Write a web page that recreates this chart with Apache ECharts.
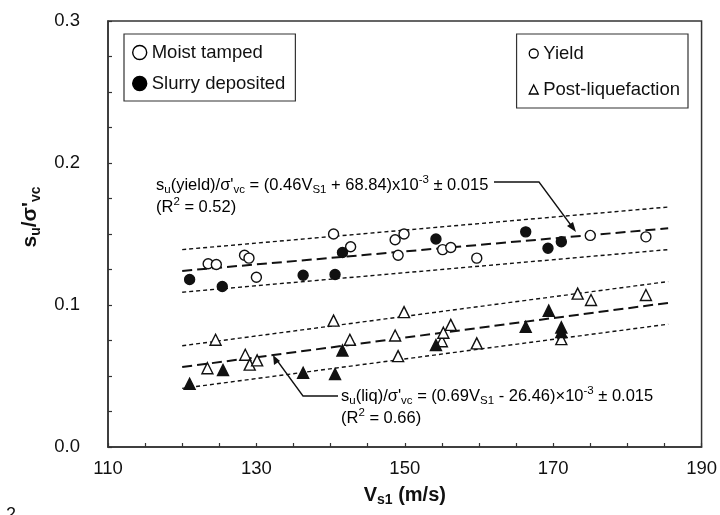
<!DOCTYPE html>
<html>
<head>
<meta charset="utf-8">
<script src="https://cdn.jsdelivr.net/npm/echarts@6/dist/echarts.min.js"></script>
<style>html,body{margin:0;padding:0;background:#fff}#c{width:720px;height:515px}</style>
</head>
<body>
<div id="c"></div>
<script>
// ---- Data ----
// Yield, moist tamped (open circles)
const moistYieldX = [123.5, 124.6, 128.4, 129.0, 130.0, 140.4, 142.7, 148.7, 149.9, 149.1, 155.1, 156.2, 159.7, 175.0, 182.5];
const moistYieldY = [0.129, 0.1285, 0.135, 0.133, 0.1195, 0.150, 0.141, 0.146, 0.150, 0.135, 0.139, 0.1405, 0.133, 0.149, 0.148];
// Yield, slurry deposited (filled circles)
const slurryYieldX = [121.0, 125.4, 136.3, 140.6, 141.6, 154.2, 166.3, 169.3, 171.1];
const slurryYieldY = [0.118, 0.113, 0.121, 0.1215, 0.137, 0.1465, 0.1515, 0.140, 0.1445];
// Post-liquefaction, moist tamped (open triangles)
const moistLiqX = [123.4, 124.5, 128.5, 129.1, 130.1, 140.4, 142.6, 148.7, 149.1, 149.9, 155.0, 155.2, 156.2, 159.7, 171.1, 173.3, 175.1, 182.5];
const moistLiqY = [0.0555, 0.0755, 0.065, 0.058, 0.061, 0.089, 0.0755, 0.0785, 0.064, 0.095, 0.0745, 0.0805, 0.086, 0.073, 0.076, 0.108, 0.1035, 0.107];
// Post-liquefaction, slurry deposited (filled triangles)
const slurryLiqX = [121.0, 125.5, 136.3, 140.6, 141.6, 154.2, 166.3, 169.4, 171.1, 171.1];
const slurryLiqY = [0.0445, 0.0542, 0.0523, 0.0514, 0.068, 0.0718, 0.0847, 0.096, 0.0842, 0.081];
// Fit lines (end points)
const fitX = [120, 185.5];
const yieldMean = [0.124, 0.154];
const yieldUpper = [0.139, 0.169];
const yieldLower = [0.109, 0.139];
const liqMean = [0.0563, 0.1015];
const liqUpper = [0.0713, 0.1165];
const liqLower = [0.0413, 0.0865];
// Axis ticks
const xTicks = [110, 130, 150, 170, 190];
const yTicks = [0.0, 0.1, 0.2, 0.3];

const pair = (xs, ys) => xs.map((x, i) => [x, ys[i]]);
const FONT = 'Liberation Sans, Arial, sans-serif';
const INK = '#111';

function scatter(name, xs, ys, symbol, filled, size) {
  return {
    name, type: 'scatter', data: pair(xs, ys), symbol, symbolSize: size,
    itemStyle: { color: filled ? INK : '#fff', borderColor: INK, borderWidth: 1.4, opacity: 1 },
    z: filled ? 4 : 3, silent: true
  };
}
function fitLine(name, ys, dash, width) {
  return {
    name, type: 'line', data: pair(fitX, ys), symbol: 'none', silent: true,
    lineStyle: { color: INK, width, type: dash }, z: 2
  };
}
function legendOnly(name, symbol, filled) {
  return { name, type: 'scatter', data: [], symbol,
    itemStyle: { color: filled ? '#000' : '#fff', borderColor: '#000', borderWidth: 1.4, opacity: 1 } };
}

const txt = { fontFamily: FONT, fontSize: 16.5, color: INK };
const sub = { fontFamily: FONT, fontSize: 11.5, color: INK, verticalAlign: 'bottom', lineHeight: 12 };
const sup = { fontFamily: FONT, fontSize: 11.5, color: INK, verticalAlign: 'top', lineHeight: 12 };
const richEq = { t: Object.assign({ lineHeight: 22 }, txt), sub, sup };

const chart = echarts.init(document.getElementById('c'), null, { renderer: 'canvas' });
chart.setOption({
  animation: false,
  backgroundColor: '#fff',
  grid: { left: 108, right: 18, top: 21, bottom: 68, show: true, borderColor: '#333', borderWidth: 1.5, backgroundColor: 'transparent' },
  xAxis: {
    type: 'value', min: 110, max: 190, interval: 20,
    axisLine: { show: true, lineStyle: { color: '#333', width: 1.5 } },
    axisTick: { show: true, inside: true, length: 4, lineStyle: { color: '#333', width: 1.2 } },
    minorTick: { show: true, splitNumber: 4, length: 4, lineStyle: { color: '#333', width: 1.2 } },
    splitLine: { show: false },
    axisLabel: { fontFamily: FONT, fontSize: 18.5, color: INK, margin: 12,
      formatter: v => xTicks.includes(v) ? String(v) : '' },
    name: '{b|V}{bs|s1}{b| (m/s)}', nameLocation: 'middle', nameGap: 36,
    nameTextStyle: { rich: {
      b: { fontFamily: FONT, fontSize: 20, fontWeight: 'bold', color: INK, lineHeight: 24 },
      bs: { fontFamily: FONT, fontSize: 14, fontWeight: 'bold', color: INK, verticalAlign: 'bottom', lineHeight: 14 }
    } }
  },
  yAxis: {
    type: 'value', min: 0, max: 0.3, interval: 0.1,
    axisLine: { show: true, lineStyle: { color: '#333', width: 1.5 } },
    axisTick: { show: true, inside: true, length: 4, lineStyle: { color: '#333', width: 1.2 } },
    minorTick: { show: true, splitNumber: 4, length: 4, lineStyle: { color: '#333', width: 1.2 } },
    splitLine: { show: false },
    axisLabel: { fontFamily: FONT, fontSize: 18.5, color: INK, margin: 28,
      formatter: v => yTicks.some(t => Math.abs(t - v) < 1e-9) ? v.toFixed(1) : '' },
    name: '{b|s}{bs|u}{b|/σ\'}{bs|vc}', nameLocation: 'middle', nameGap: 44, nameRotate: 90,
    nameTextStyle: { padding: [0, 0, 0, 34], rich: {
      b: { fontFamily: FONT, fontSize: 21, fontWeight: 'bold', color: INK, lineHeight: 26 },
      bs: { fontFamily: FONT, fontSize: 14, fontWeight: 'bold', color: INK, verticalAlign: 'bottom', lineHeight: 14 }
    } }
  },
  legend: [
    { data: [
        { name: 'Moist tamped', icon: 'circle', itemStyle: { color: '#fff', borderColor: '#000', borderWidth: 1.4 } },
        { name: 'Slurry deposited', icon: 'circle', itemStyle: { color: '#000', borderColor: '#000', borderWidth: 1.4 } }
      ],
      orient: 'vertical', left: 124, top: 34, itemWidth: 14, itemHeight: 14, itemGap: 12,
      selectedMode: false, borderColor: '#333', borderWidth: 1.2, padding: [9, 10, 8, 8],
      textStyle: { fontFamily: FONT, fontSize: 18.5, color: INK } },
    { data: [
        { name: 'Yield', icon: 'circle', itemStyle: { color: '#fff', borderColor: '#000', borderWidth: 1.3 } },
        { name: 'Post-liquefaction', icon: 'triangle', itemStyle: { color: '#fff', borderColor: '#000', borderWidth: 1.3 } }
      ],
      orient: 'vertical', right: 32, top: 34, itemWidth: 9, itemHeight: 9, itemGap: 17,
      selectedMode: false, borderColor: '#333', borderWidth: 1.2, padding: [10, 8, 9, 12],
      textStyle: { fontFamily: FONT, fontSize: 18.5, color: INK } }
  ],
  series: [
    legendOnly('Moist tamped', 'circle', false),
    legendOnly('Slurry deposited', 'circle', true),
    legendOnly('Yield', 'circle', false),
    legendOnly('Post-liquefaction', 'triangle', false),
    fitLine('yield upper', yieldUpper, [4, 3], 1.4),
    fitLine('yield mean', yieldMean, [10, 5], 2),
    fitLine('yield lower', yieldLower, [4, 3], 1.4),
    fitLine('liq upper', liqUpper, [4, 3], 1.4),
    fitLine('liq mean', liqMean, [10, 5], 2),
    fitLine('liq lower', liqLower, [4, 3], 1.4),
    scatter('MT yield', moistYieldX, moistYieldY, 'circle', false, 10),
    scatter('SD yield', slurryYieldX, slurryYieldY, 'circle', true, 10),
    scatter('MT liq', moistLiqX, moistLiqY, 'triangle', false, 11),
    scatter('SD liq', slurryLiqX, slurryLiqY, 'triangle', true, 11)
  ],
  graphic: [
    { type: 'text', left: 156, top: 174, style: {
        text: '{t|s}{sub|u}{t|(yield)/σ\'}{sub|vc}{t| = (0.46V}{sub|S1}{t| + 68.84)x10}{sup|-3}{t| ± 0.015}\n{t|(R}{sup|2}{t| = 0.52)}',
        rich: richEq } },
    { type: 'polyline', shape: { points: [[494, 182], [539, 182], [573, 228]] },
      style: { stroke: INK, lineWidth: 1.3, fill: null } },
    { type: 'polygon', shape: { points: [[576, 232], [567, 226], [573, 222]] },
      style: { fill: INK } },
    { type: 'text', left: 341, top: 385, style: {
        text: '{t|s}{sub|u}{t|(liq)/σ\'}{sub|vc}{t| = (0.69V}{sub|S1}{t| - 26.46)×10}{sup|-3}{t| ± 0.015}\n{t|(R}{sup|2}{t| = 0.66)}',
        rich: richEq } },
    { type: 'polyline', shape: { points: [[338, 396], [303, 396], [276, 359]] },
      style: { stroke: INK, lineWidth: 1.3, fill: null } },
    { type: 'polygon', shape: { points: [[273, 355], [274, 365], [280, 361]] },
      style: { fill: INK } },
    { type: 'text', left: 6, top: 506, style: { text: '2', fontFamily: FONT, fontSize: 18, fill: INK } }
  ]
});
</script>
</body>
</html>
